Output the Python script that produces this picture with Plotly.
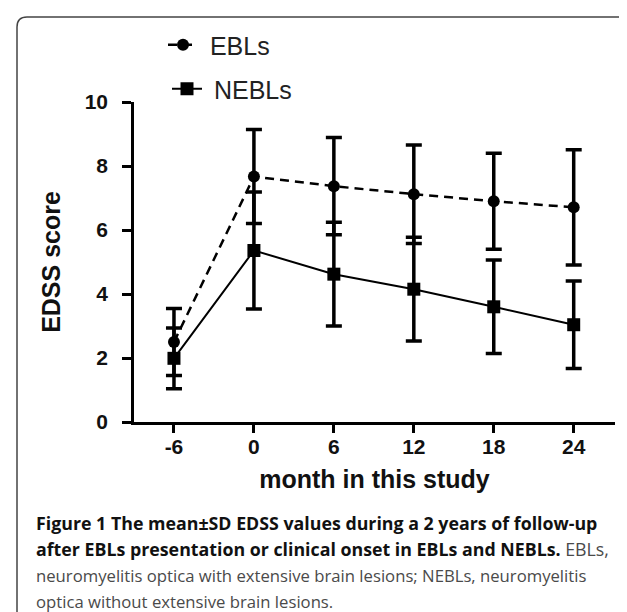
import plotly.graph_objects as go

months = [-6, 0, 6, 12, 18, 24]
ebl_mean = [2.5, 7.67, 7.37, 7.12, 6.9, 6.71]
ebl_sd = [1.05, 1.47, 1.52, 1.54, 1.5, 1.8]
nebl_mean = [1.99, 5.36, 4.62, 4.15, 3.6, 3.04]
nebl_sd = [0.95, 1.83, 1.62, 1.62, 1.46, 1.37]
x_ticks = [-6, 0, 6, 12, 18, 24]
y_ticks = [0, 2, 4, 6, 8, 10]

W, H = 627, 612
L, R, T, B = 126, 20, 94, 198
PW, PH = W - L - R, H - T - B


def xp(px):
    return (px - L) / PW


def yp(py):
    return (H - B - py) / PH


fig = go.Figure()
fig.add_trace(go.Scatter(
    x=months, y=ebl_mean, name="\u00a0EBLs", mode="lines+markers",
    line=dict(color="black", width=2.5, dash="9px,6px"),
    marker=dict(symbol="circle", size=12, color="black"),
    error_y=dict(type="data", array=ebl_sd, visible=True, color="black", thickness=3.5, width=8),
    legend="legend",
))
fig.add_trace(go.Scatter(
    x=months, y=nebl_mean, name="\u00a0NEBLs", mode="lines+markers",
    line=dict(color="black", width=2),
    marker=dict(symbol="square", size=13, color="black"),
    error_y=dict(type="data", array=nebl_sd, visible=True, color="black", thickness=3.5, width=8),
    legend="legend2",
))

fig.update_xaxes(
    range=[-9.0, 27.1], tickvals=x_ticks, ticktext=[str(v) for v in x_ticks],
    showline=True, linecolor="black", linewidth=2.5, ticks="outside", ticklen=8,
    tickwidth=2.5, tickcolor="black", showgrid=False, zeroline=False,
    tickfont=dict(family="Arial, Liberation Sans, sans-serif", size=21, color="#111", weight="bold"),
    ticklabelstandoff=-4,
    title=dict(text="<b>month in this study</b>", font=dict(family="Arial, Liberation Sans, sans-serif", size=25, color="#111"), standoff=14),
)
fig.update_yaxes(
    range=[0, 10], tickvals=y_ticks,
    showline=True, linecolor="black", linewidth=2.5, ticks="outside", ticklen=9,
    tickwidth=2.5, tickcolor="black", showgrid=False, zeroline=False,
    tickfont=dict(family="Arial, Liberation Sans, sans-serif", size=21, color="#111", weight="bold"),
    ticklabelstandoff=10,
    title=dict(text="<b>EDSS score</b>", font=dict(family="Arial, Liberation Sans, sans-serif", size=25, color="#111"), standoff=17),
)

leg_common = dict(
    font=dict(family="Arial, Liberation Sans, sans-serif", size=25, color="#222"),
    bgcolor="rgba(0,0,0,0)", borderwidth=0, xanchor="left", yanchor="middle",
    itemwidth=30, itemclick=False, itemdoubleclick=False,
)

cap_font_b = dict(family="Open Sans, sans-serif", size=17.8, color="#111", weight="bold")
cap_font_r = dict(family="Open Sans, sans-serif", size=16.7, color="#4a4a4a")
caption = [
    ("Figure 1 The mean±SD EDSS values during a 2 years of follow-up", 515, cap_font_b),
    ("after EBLs presentation or clinical onset in EBLs and NEBLs. <span style='font-weight:normal;color:#4a4a4a'>EBLs,</span>", 541, cap_font_b),
    ("neuromyelitis optica with extensive brain lesions; NEBLs, neuromyelitis", 567, cap_font_r),
    ("optica without extensive brain lesions.", 593, cap_font_r),
]
annotations = [
    dict(text=t, x=xp(26), y=yp(py), xref="paper", yref="paper", xanchor="left",
         yanchor="middle", showarrow=False, font=f, align="left")
    for t, py, f in caption
]

r = 10
x0, x1 = xp(9), xp(626)
y_top, y_bot = yp(9), yp(640)
rx, ry = r / PW, r / PH
border = (f"M {x0},{y_bot} L {x0},{y_top - ry} Q {x0},{y_top} {x0 + rx},{y_top} "
          f"L {x1 - rx},{y_top} Q {x1},{y_top} {x1},{y_top - ry} L {x1},{y_bot}")

fig.update_layout(
    width=W, height=H,
    margin=dict(l=L, r=R, t=T, b=B),
    paper_bgcolor="white", plot_bgcolor="white",
    showlegend=True,
    legend=dict(x=xp(155), y=yp(37), **leg_common),
    legend2=dict(x=xp(159), y=yp(81), **leg_common),
    annotations=annotations,
    shapes=[dict(type="path", path=border, xref="paper", yref="paper",
                 line=dict(color="#444", width=1.5), layer="above")],
)

fig.write_html("out.html")
